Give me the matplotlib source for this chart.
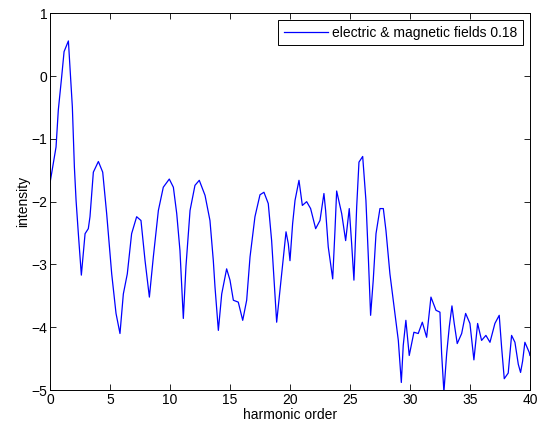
import matplotlib
matplotlib.use('Agg')
import matplotlib.pyplot as plt

# values
harmonic = [0.0, 0.5, 0.69, 0.97, 1.17, 1.53, 1.86, 2.03, 2.17, 2.36, 2.61, 2.92, 3.19, 3.33,
            3.61, 4.03, 4.39, 4.72, 5.14, 5.5, 5.83, 6.11, 6.44, 6.8, 7.22, 7.58, 7.92, 8.28,
            8.61, 9.03, 9.44, 9.94, 10.28, 10.56, 10.83, 11.11, 11.33, 11.67, 12.08, 12.44,
            12.92, 13.33, 13.61, 13.75, 14.03, 14.31, 14.72, 15.0, 15.28, 15.69, 16.06, 16.39,
            16.67, 17.08, 17.5, 17.83, 18.19, 18.47, 18.89, 19.17, 19.44, 19.67, 19.86, 20.0,
            20.22, 20.42, 20.75, 21.03, 21.39, 21.72, 22.14, 22.5, 22.83, 22.97, 23.19, 23.56,
            23.75, 23.89, 24.31, 24.64, 24.94, 25.14, 25.33, 25.56, 25.75, 26.06, 26.33, 26.53,
            26.72, 26.94, 27.17, 27.5, 27.78, 28.0, 28.33, 28.75, 29.03, 29.28, 29.44, 29.66,
            29.94, 30.33, 30.69, 31.03, 31.39, 31.75, 32.17, 32.5, 32.64, 32.83, 33.06, 33.28,
            33.5, 33.69, 33.94, 34.31, 34.64, 35.0, 35.33, 35.64, 35.97, 36.33, 36.67, 37.08,
            37.44, 37.64, 37.86, 38.19, 38.47, 38.75, 39.03, 39.22, 39.39, 39.58, 39.94, 40.0]
intensity = [-1.70, -1.13, -0.54, -0.01, 0.39, 0.56, -0.49, -1.45, -1.98, -2.51, -3.17, -2.51,
             -2.43, -2.24, -1.53, -1.36, -1.53, -2.19, -3.15, -3.78, -4.10, -3.47, -3.15, -2.51,
             -2.24, -2.30, -2.94, -3.52, -2.88, -2.14, -1.77, -1.64, -1.77, -2.19, -2.78, -3.86,
             -3.03, -2.14, -1.74, -1.66, -1.90, -2.30, -2.94, -3.36, -4.05, -3.47, -3.07, -3.25,
             -3.57, -3.60, -3.89, -3.57, -2.88, -2.24, -1.89, -1.85, -2.03, -2.62, -3.92, -3.40,
             -2.90, -2.48, -2.67, -2.94, -2.35, -1.98, -1.66, -2.06, -2.00, -2.11, -2.43, -2.30,
             -1.87, -2.14, -2.72, -3.23, -2.46, -1.83, -2.19, -2.62, -2.11, -2.67, -3.25, -2.08,
             -1.37, -1.28, -1.98, -2.88, -3.81, -3.25, -2.51, -2.11, -2.11, -2.46, -3.15, -3.78,
             -4.21, -4.88, -4.29, -3.89, -4.45, -4.08, -4.10, -3.92, -4.16, -3.52, -3.73, -3.76,
             -4.42, -5.03, -4.42, -3.99, -3.66, -3.94, -4.26, -4.10, -3.78, -3.94, -4.52, -3.94,
             -4.21, -4.13, -4.24, -3.94, -3.81, -4.32, -4.82, -4.73, -4.13, -4.24, -4.59, -4.72,
             -4.54, -4.24, -4.40, -4.45]

plt.rcParams['font.family'] = ['Liberation Sans', 'DejaVu Sans']
plt.rcParams['font.size'] = 10

fig = plt.figure(figsize=(5.38, 4.30), dpi=100)
ax = fig.add_axes([0.093, 0.093, 0.892, 0.876])
ax.plot(harmonic, intensity, color='blue', linewidth=0.9,
        label='electric & magnetic fields 0.18')
ax.set_xlim(0, 40)
ax.set_ylim(-5, 1)
ax.set_xticks(range(0, 41, 5))
ax.set_yticks(range(-5, 2))
ax.tick_params(direction='in', top=True, right=True, length=4, width=0.6, pad=2)
for s in ax.spines.values():
    s.set_linewidth(0.7)
ax.set_xlabel('harmonic order', labelpad=1)
ax.set_ylabel('intensity', labelpad=1)
leg = ax.legend(loc='upper right', fancybox=False, framealpha=1, edgecolor='black',
                borderaxespad=0.5, handlelength=3.2, handletextpad=0.3, borderpad=0.4)
leg.get_frame().set_linewidth(0.7)

fig.savefig('out.png', dpi=100)
